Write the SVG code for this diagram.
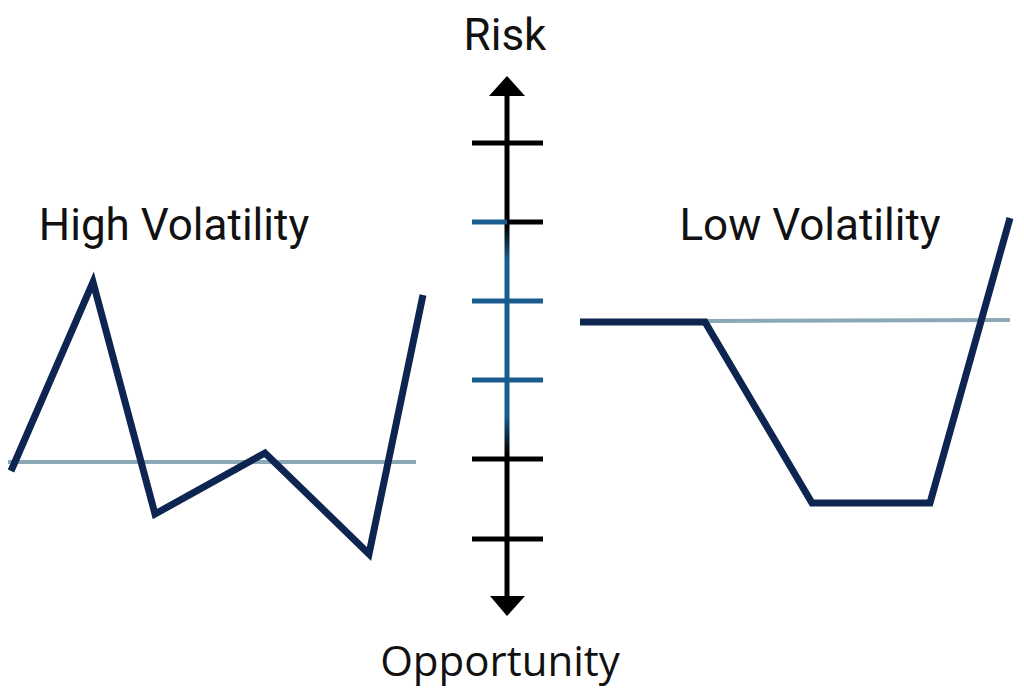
<svg xmlns="http://www.w3.org/2000/svg" width="1024" height="700" viewBox="0 0 1024 700">
<style>
text{font-family:Roboto,"Liberation Sans",sans-serif;fill:#111;font-size:44px;}
.opp{font-family:"Open Sans","Liberation Sans",sans-serif;font-size:42px;}
.series{fill:none;stroke:#0d2550;stroke-width:7;stroke-linejoin:miter;}
.base{stroke:#8aa8b6;stroke-width:4;}
.tk{stroke-width:5;}
</style>
<defs>
<linearGradient id="axg" gradientUnits="userSpaceOnUse" x1="0" y1="75" x2="0" y2="616">
<stop offset="0" stop-color="#000"/>
<stop offset="0.28" stop-color="#000"/>
<stop offset="0.34" stop-color="#195c8e"/>
<stop offset="0.63" stop-color="#195c8e"/>
<stop offset="0.70" stop-color="#000"/>
<stop offset="1" stop-color="#000"/>
</linearGradient>
</defs>
<rect width="1024" height="700" fill="#fff"/>
<g id="axis">
<line x1="507" y1="92" x2="507" y2="600" stroke="url(#axg)" stroke-width="5"/>
<polygon points="507,76 489,96 525,96" fill="#000"/>
<polygon points="507,616 490,596 525,596" fill="#000"/>
<line class="tk" x1="472" y1="143" x2="543" y2="143" stroke="#000"/>
<line class="tk" x1="472" y1="222" x2="507" y2="222" stroke="#195c8e"/>
<line class="tk" x1="507" y1="222" x2="543" y2="222" stroke="#000"/>
<line class="tk" x1="472" y1="301" x2="543" y2="301" stroke="#195c8e"/>
<line class="tk" x1="472" y1="380" x2="543" y2="380" stroke="#195c8e"/>
<line class="tk" x1="472" y1="459" x2="543" y2="459" stroke="#000"/>
<line class="tk" x1="472" y1="539" x2="543" y2="539" stroke="#000"/>
</g>
<g id="risk"><text x="505" y="50" text-anchor="middle">Risk</text></g>
<g id="opportunity"><text class="opp" x="500" y="676" text-anchor="middle">Opportunity</text></g>
<g id="high-volatility">
<text x="174" y="240" text-anchor="middle">High Volatility</text>
<line class="base" x1="8" y1="462" x2="416" y2="462"/>
<polyline class="series" points="11,471 93,282 155,514 265,453 369,554 423,295"/>
</g>
<g id="low-volatility">
<text x="810" y="240" text-anchor="middle">Low Volatility</text>
<line class="base" x1="705" y1="321" x2="1010" y2="320"/>
<polyline class="series" points="580,322 705,322 812,503 930,503 1010,218"/>
</g>
</svg>
